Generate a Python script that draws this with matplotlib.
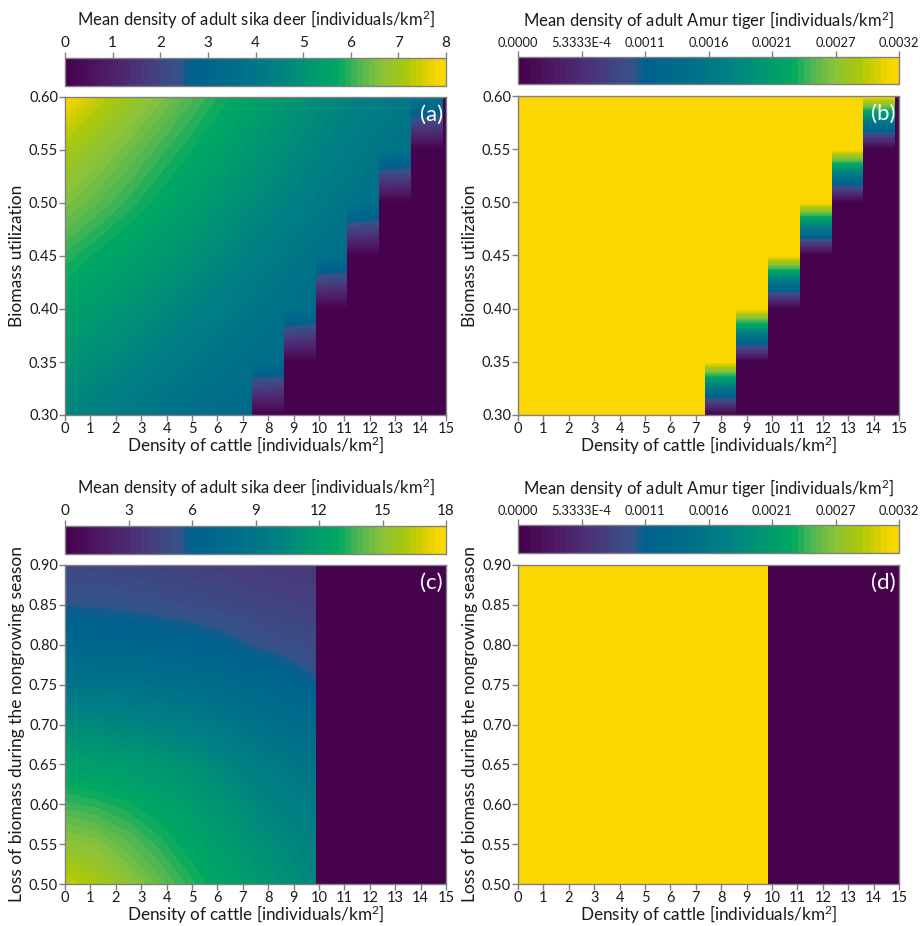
import numpy as np
import matplotlib
matplotlib.use('Agg')
import matplotlib.pyplot as plt
from matplotlib.colors import LinearSegmentedColormap

plt.rcParams['font.family'] = ['Lato', 'DejaVu Sans']
plt.rcParams['mathtext.fontset'] = 'custom'
plt.rcParams['mathtext.rm'] = 'Lato'
plt.rcParams['mathtext.it'] = 'Lato:italic'

# ---------------- data ----------------
# Panel (a)/(b): cattle density nodes and biomass utilization nodes
cattle_ab = [0, 1.25, 2.5, 3.75, 5, 6.25, 7.35, 8.6, 9.85, 11.1, 12.35, 13.6, 14.85, 15]
util_ab = [0.30, 0.35, 0.40, 0.45, 0.50, 0.55, 0.60]
# mean adult sika deer density (where the system persists)
deer_a_030 = [4.6, 4.35, 4.1, 3.85, 3.6, 3.4, 3.2, 0, 0, 0, 0, 0, 0, 0]
deer_a_035 = [5.05, 4.8, 4.55, 4.3, 4.05, 3.8, 3.6, 3.4, 0, 0, 0, 0, 0, 0]
deer_a_040 = [5.5, 5.25, 5.0, 4.75, 4.5, 4.25, 4.0, 3.75, 3.5, 0, 0, 0, 0, 0]
deer_a_045 = [5.95, 5.7, 5.45, 5.2, 4.95, 4.65, 4.4, 4.1, 3.85, 3.6, 0, 0, 0, 0]
deer_a_050 = [6.55, 6.25, 5.95, 5.65, 5.35, 5.05, 4.8, 4.5, 4.2, 3.95, 3.7, 0, 0, 0]
deer_a_055 = [7.1, 6.75, 6.4, 6.05, 5.75, 5.45, 5.15, 4.85, 4.55, 4.25, 4.0, 3.75, 0, 0]
deer_a_060 = [7.9, 7.4, 6.95, 6.55, 6.15, 5.8, 5.5, 5.2, 4.85, 4.55, 4.3, 4.05, 3.8, 0]
# extinction steps: cattle columns and highest utilization that is extinct
col_edges_ab = [7.35, 8.6, 9.85, 11.1, 12.35, 13.6, 14.85, 15]
extinct_upto_ab = [0.30, 0.35, 0.40, 0.45, 0.50, 0.55, 0.60]
# mean adult Amur tiger density where tigers persist
tiger_b = 0.0032

# Panel (c)/(d): loss of biomass during the nongrowing season
cattle_cd = [0, 1.25, 2.5, 3.75, 5, 6.25, 7.5, 8.75, 9.85, 15]
loss_cd = [0.50, 0.55, 0.60, 0.65, 0.70, 0.75, 0.80, 0.85, 0.90]
deer_c_050 = [16.6, 16.0, 15.1, 14.2, 13.3, 12.5, 11.8, 11.1, 10.4, 0]
deer_c_055 = [15.1, 14.8, 14.1, 13.35, 12.6, 11.95, 11.2, 10.55, 10.0, 0]
deer_c_060 = [13.6, 13.35, 13.0, 12.5, 11.95, 11.3, 10.5, 9.85, 9.4, 0]
deer_c_065 = [12.2, 12.05, 11.85, 11.5, 11.05, 10.35, 9.7, 9.15, 8.6, 0]
deer_c_070 = [10.7, 10.5, 10.3, 10.0, 9.65, 9.1, 8.5, 8.0, 7.6, 0]
deer_c_075 = [8.8, 8.7, 8.6, 8.3, 8.0, 7.6, 7.1, 6.5, 5.8, 0]
deer_c_080 = [7.0, 6.85, 6.7, 6.55, 6.35, 6.0, 5.5, 5.15, 4.9, 0]
deer_c_085 = [5.6, 5.5, 5.4, 5.2, 5.0, 4.8, 4.5, 4.35, 4.2, 0]
deer_c_090 = [4.7, 4.6, 4.5, 4.35, 4.2, 4.05, 3.9, 3.75, 3.6, 0]
col_edges_cd = [9.85, 15]
extinct_upto_cd = [0.90]
tiger_d = 0.0032

tiger_ticks = [0, 0.0032 / 6, 0.0032 * 2 / 6, 0.0032 * 3 / 6, 0.0032 * 4 / 6, 0.0032 * 5 / 6, 0.0032]
tiger_ticklabels = ['0.0000', '5.3333E-4', '0.0011', '0.0016', '0.0021', '0.0027', '0.0032']

# ---------------- colormap ----------------
cmap = LinearSegmentedColormap.from_list('origin_viridis', [
    (0.00, '#45004a'), (0.10, '#4e1a66'), (0.20, '#4a3579'), (0.28, '#3b4d87'),
    (0.315, '#2f5589'), (0.325, '#00608e'), (0.45, '#006e8a'), (0.55, '#007e84'),
    (0.65, '#009870'), (0.72, '#00a862'), (0.77, '#4cb652'), (0.83, '#88c23e'),
    (0.90, '#aac808'), (0.96, '#e6d100'), (1.00, '#ffd800')], N=256)


def build_mesh(xnodes, ynodes, rows, edges, extinct_upto):
    """Node table with duplicated x at extinction column edges (sharp steps)."""
    cols = []  # (x, node index, column id)
    for i, x in enumerate(xnodes):
        if x in edges:
            j = edges.index(x)
            cols.append((x, i, j - 1))
            if j < len(edges) - 1:
                cols.append((x, i, j))
        else:
            cid = -1
            for j in range(len(edges) - 1):
                if edges[j] <= x < edges[j + 1]:
                    cid = j
            cols.append((x, i, cid))
    X = np.zeros((len(ynodes), len(cols)))
    Y = np.zeros_like(X)
    Z = np.zeros_like(X)
    for r, y in enumerate(ynodes):
        for c, (x, i, cid) in enumerate(cols):
            X[r, c] = x
            Y[r, c] = y
            alive = cid == -1 or y > extinct_upto[cid] + 1e-9
            Z[r, c] = rows[r][i] if alive else 0.0
    return X, Y, Z


deer_a = [deer_a_030, deer_a_035, deer_a_040, deer_a_045, deer_a_050, deer_a_055, deer_a_060]
tiger_rows_b = [[tiger_b] * len(cattle_ab) for _ in util_ab]
deer_c = [deer_c_050, deer_c_055, deer_c_060, deer_c_065, deer_c_070, deer_c_075,
          deer_c_080, deer_c_085, deer_c_090]
tiger_rows_d = [[tiger_d] * len(cattle_cd) for _ in loss_cd]

W, H = 921, 926
fig = plt.figure(figsize=(W / 100, H / 100), dpi=100)

GRAY = '#808080'
TXT = '#1a1a1a'


def fx(px):
    return px / W


def fy(py):
    return 1 - py / H


def make_panel(ax_px, cb_px, X, Y, Z, vmax, ylim, yticks, ylabel, letter,
               cb_label, cb_ticks, cb_ticklabels, cb_fs=11):
    l, t, r, b = ax_px
    ax = fig.add_axes([fx(l), fy(b), fx(r - l), (b - t) / H])
    levels = np.linspace(0, vmax, 65)
    m = ax.contourf(X, Y, Z, levels=levels, cmap=cmap, vmin=0, vmax=vmax,
                    antialiased=False)
    ax.set_xlim(0, 15)
    ax.set_ylim(*ylim)
    ax.set_xticks(range(16))
    ax.set_yticks(yticks)
    ax.set_yticklabels([f'{v:.2f}' for v in yticks])
    for s in ax.spines.values():
        s.set_color(GRAY)
        s.set_linewidth(1.0)
        s.set_zorder(5)
    ax.tick_params(direction='out', length=4, width=1, color=GRAY,
                   labelcolor=TXT, labelsize=10.5, pad=1)
    ax.set_xlabel('Density of cattle [individuals/km$^{2}$]', fontsize=12.3,
                  color=TXT, labelpad=-1)
    ax.set_ylabel(ylabel, fontsize=12.5, color=TXT, labelpad=3)
    ax.text(0.992, 0.975, letter, transform=ax.transAxes, ha='right', va='top',
            color='white', fontsize=16)

    cl, ct, cr, cbm = cb_px
    cax = fig.add_axes([fx(cl), fy(cbm), fx(cr - cl), (cbm - ct) / H])
    cb = fig.colorbar(m, cax=cax, orientation='horizontal')
    cb.outline.set_edgecolor(GRAY)
    cb.outline.set_linewidth(1.0)
    cax.xaxis.set_ticks_position('top')
    cax.xaxis.set_label_position('top')
    cb.set_ticks(cb_ticks)
    cb.set_ticklabels(cb_ticklabels)
    cax.tick_params(direction='out', length=4, width=1, color=GRAY,
                    labelcolor=TXT, labelsize=cb_fs, pad=2)
    cb.set_label(cb_label, fontsize=12, color=TXT, labelpad=7)
    return ax


deer_label = 'Mean density of adult sika deer [individuals/km$^{2}$]'
tiger_label = 'Mean density of adult Amur tiger [individuals/km$^{2}$]'

Xa, Ya, Za = build_mesh(cattle_ab, util_ab, deer_a, col_edges_ab, extinct_upto_ab)
make_panel((65, 97, 446, 415), (65, 58, 446, 86), Xa, Ya, Za, 8, (0.30, 0.60),
           [0.30, 0.35, 0.40, 0.45, 0.50, 0.55, 0.60], 'Biomass utilization', '(a)',
           deer_label, list(range(0, 9)), [str(v) for v in range(0, 9)])

Xb, Yb, Zb = build_mesh(cattle_ab, util_ab, tiger_rows_b, col_edges_ab, extinct_upto_ab)
make_panel((518, 96, 899, 415), (518, 57, 899, 84), Xb, Yb, Zb, 0.0032, (0.30, 0.60),
           [0.30, 0.35, 0.40, 0.45, 0.50, 0.55, 0.60], 'Biomass utilization', '(b)',
           tiger_label, tiger_ticks, tiger_ticklabels, cb_fs=9.3)

Xc, Yc, Zc = build_mesh(cattle_cd, loss_cd, deer_c, col_edges_cd, extinct_upto_cd)
make_panel((65, 565, 446, 884), (65, 526, 446, 554), Xc, Yc, Zc, 18, (0.50, 0.90),
           [0.50, 0.55, 0.60, 0.65, 0.70, 0.75, 0.80, 0.85, 0.90],
           'Loss of biomass during the nongrowing season', '(c)',
           deer_label, list(range(0, 19, 3)), [str(v) for v in range(0, 19, 3)])

Xd, Yd, Zd = build_mesh(cattle_cd, loss_cd, tiger_rows_d, col_edges_cd, extinct_upto_cd)
make_panel((518, 565, 899, 884), (518, 525, 899, 553), Xd, Yd, Zd, 0.0032, (0.50, 0.90),
           [0.50, 0.55, 0.60, 0.65, 0.70, 0.75, 0.80, 0.85, 0.90],
           'Loss of biomass during the nongrowing season', '(d)',
           tiger_label, tiger_ticks, tiger_ticklabels, cb_fs=9.3)

fig.savefig('out.png', dpi=100)
